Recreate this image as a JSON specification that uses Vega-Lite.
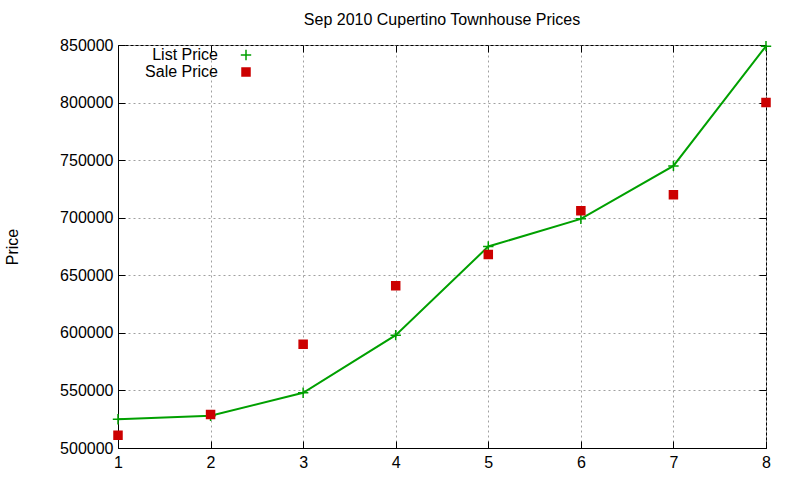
{
  "$schema": "https://vega.github.io/schema/vega-lite/v6.json",
  "width": 648,
  "height": 403,
  "autosize": {"type": "none"},
  "padding": {"left": 118, "top": 45, "right": 34, "bottom": 32},
  "title": {"text": "Sep 2010 Cupertino Townhouse Prices", "offset": 9},
  "data": {
    "values": [
      {"month": 1, "series": "List Price", "price": 525000},
      {"month": 2, "series": "List Price", "price": 528000},
      {"month": 3, "series": "List Price", "price": 548000},
      {"month": 4, "series": "List Price", "price": 598000},
      {"month": 5, "series": "List Price", "price": 675000},
      {"month": 6, "series": "List Price", "price": 699000},
      {"month": 7, "series": "List Price", "price": 745000},
      {"month": 8, "series": "List Price", "price": 849000},
      {"month": 1, "series": "Sale Price", "price": 511000},
      {"month": 2, "series": "Sale Price", "price": 529000},
      {"month": 3, "series": "Sale Price", "price": 590000},
      {"month": 4, "series": "Sale Price", "price": 641000},
      {"month": 5, "series": "Sale Price", "price": 668000},
      {"month": 6, "series": "Sale Price", "price": 706000},
      {"month": 7, "series": "Sale Price", "price": 720000},
      {"month": 8, "series": "Sale Price", "price": 800000}
    ]
  },
  "layer": [
    {
      "transform": [{"filter": "datum.series === 'List Price'"}],
      "mark": {"type": "line", "color": "#00a000", "strokeWidth": 2},
      "encoding": {
        "x": {
          "field": "month", "type": "quantitative",
          "scale": {"domain": [1, 8], "nice": false, "zero": false},
          "axis": {"orient": "bottom", "title": null, "values": [1, 2, 3, 4, 5, 6, 7, 8], "format": "d",
                   "grid": true, "tickSize": -7, "labelPadding": 13, "labelFlush": false}
        },
        "y": {
          "field": "price", "type": "quantitative",
          "scale": {"domain": [500000, 850000], "nice": false, "zero": false},
          "axis": {"orient": "left", "title": "Price",
                   "values": [500000, 550000, 600000, 650000, 700000, 750000, 800000, 850000],
                   "format": "d", "grid": true, "tickSize": -7, "labelPadding": 12, "labelFlush": false,
                   "titleX": -106, "titleBaseline": "middle"}
        }
      }
    },
    {
      "mark": {"type": "point", "filled": true, "strokeWidth": 1.5, "size": 64, "opacity": 1},
      "encoding": {
        "x": {
          "field": "month", "type": "quantitative",
          "axis": {"orient": "top", "title": null, "labels": false, "grid": false, "domain": false,
                   "values": [1, 2, 3, 4, 5, 6, 7, 8], "tickSize": -7}
        },
        "y": {
          "field": "price", "type": "quantitative",
          "axis": {"orient": "right", "title": null, "labels": false, "grid": false, "domain": false,
                   "values": [500000, 550000, 600000, 650000, 700000, 750000, 800000, 850000], "tickSize": -7}
        },
        "color": {
          "field": "series", "type": "nominal",
          "scale": {"domain": ["List Price", "Sale Price"], "range": ["#00a000", "#cc0000"]},
          "legend": {"title": null, "orient": "none", "legendX": 120, "legendY": 2,
                     "labelAlign": "right", "labelOffset": -36, "rowPadding": -1, "padding": 0}
        },
        "stroke": {
          "field": "series", "type": "nominal",
          "scale": {"domain": ["List Price", "Sale Price"], "range": ["#00a000", "#cc0000"]},
          "legend": {"title": null, "orient": "none", "legendX": 120, "legendY": 2,
                     "labelAlign": "right", "labelOffset": -36, "rowPadding": -1, "padding": 0}
        },
        "shape": {
          "field": "series", "type": "nominal",
          "scale": {"domain": ["List Price", "Sale Price"], "range": ["M-1.3,0H1.3M0,-1.3V1.3", "square"]},
          "legend": {"title": null, "orient": "none", "legendX": 120, "legendY": 2,
                     "labelAlign": "right", "labelOffset": -36, "rowPadding": -1, "padding": 0}
        }
      }
    }
  ],
  "resolve": {"axis": {"x": "independent", "y": "independent"}},
  "config": {
    "font": "Liberation Sans",
    "view": {"stroke": "#000000", "strokeWidth": 1},
    "title": {"fontSize": 16, "fontWeight": "normal", "color": "#000000"},
    "axis": {
      "labelFontSize": 16, "labelColor": "#000000", "titleFontSize": 16, "titleFontWeight": "normal",
      "titleColor": "#000000", "domainColor": "#000000", "tickColor": "#000000", "tickWidth": 1,
      "gridColor": "#a0a0a0", "gridDash": [2, 3], "gridOpacity": 1, "gridWidth": 1
    },
    "legend": {"labelFontSize": 16, "labelColor": "#000000", "symbolStrokeWidth": 1.5, "symbolSize": 64}
  }
}
